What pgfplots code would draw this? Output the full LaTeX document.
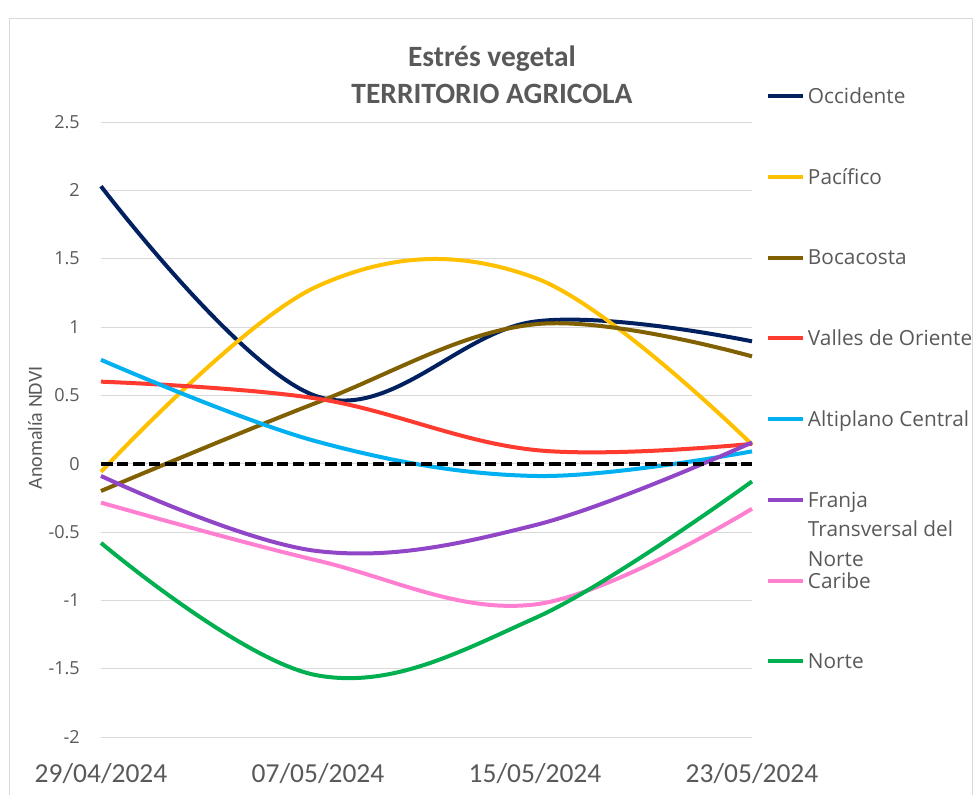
\documentclass[border=0pt]{standalone}
\usepackage{pgfplots}
\pgfplotsset{compat=1.18}
\usepackage{fontspec}
\setmainfont{Carlito}
\newfontfamily\osans{Open Sans}
\definecolor{occ}{HTML}{002060}
\definecolor{pac}{HTML}{FFC000}
\definecolor{boc}{HTML}{806000}
\definecolor{val}{HTML}{FF3B30}
\definecolor{alt}{HTML}{00B0F0}
\definecolor{fra}{HTML}{9146C8}
\definecolor{car}{HTML}{FF7FD0}
\definecolor{nor}{HTML}{00B050}
\definecolor{txt}{HTML}{595959}
\definecolor{grd}{HTML}{D9D9D9}
\begin{document}
\begin{tikzpicture}
\useasboundingbox (0,0) rectangle (732pt,595.5pt);
\draw[grd, line width=0.75pt] (6.75pt,-2pt) -- (6.75pt,581.25pt) -- (729pt,581.25pt) -- (729pt,-2pt);
\begin{axis}[
  at={(75.75pt,42.75pt)}, anchor=south west,
  scale only axis, width=488.25pt, height=461.25pt,
  xmin=0, xmax=3, ymin=-2, ymax=2.5,
  clip=false,
  axis line style={draw=none},
  major tick length=0pt,
  ymajorgrids, grid style={grd, line width=0.75pt},
  xtick={0,1,2,3},
  xticklabels={29/04/2024,07/05/2024,15/05/2024,23/05/2024},
  ytick={-2,-1.5,-1,-0.5,0,0.5,1,1.5,2,2.5},
  yticklabels={-2,-1.5,-1,-0.5,0,0.5,1,1.5,2,2.5},
  yticklabel style={font=\osans\fontsize{13.5pt}{16pt}\selectfont, text=txt, inner sep=0pt, xshift=-15.75pt},
  xticklabel style={font=\fontsize{20.6pt}{24pt}\selectfont, text=txt, anchor=base, inner sep=0pt, yshift=-33.75pt},
  every axis plot/.append style={line width=3pt, smooth, tension=0.62},
  legend cell align=left,
  legend style={at={(axis description cs:1.0215,1.0455)}, anchor=north west, draw=none, fill=none,
    inner sep=0pt, outer sep=0pt, row sep=53.0pt, column sep=2.25pt,
    font=\osans\fontsize{15.6pt}{22.1pt}\selectfont, text=txt,
    nodes={inner sep=0pt, text height=0pt, text depth=0pt, anchor=west}},
  legend image code/.code={\draw[#1, line width=3pt] (0pt,5.57pt) -- (26.25pt,5.57pt);},
]
\addplot[occ] coordinates {(0,2.03) (1,0.49) (2,1.04) (3,0.895)};
\addlegendentry{Occidente}
\addplot[pac] coordinates {(0,-0.06) (1,1.30) (2,1.36) (3,0.14)};
\addlegendentry{Pacífico}
\addplot[boc] coordinates {(0,-0.2) (1,0.45) (2,1.02) (3,0.785)};
\addlegendentry{Bocacosta}
\addplot[val] coordinates {(0,0.6) (1,0.475) (2,0.10) (3,0.145)};
\addlegendentry{Valles de Oriente}
\addplot[alt] coordinates {(0,0.76) (1,0.16) (2,-0.09) (3,0.09)};
\addlegendentry{Altiplano Central}
\addplot[fra] coordinates {(0,-0.09) (1,-0.64) (2,-0.45) (3,0.155)};
\addlegendentry{{\smash{\begin{tabular}[t]{@{}l@{}}Franja\\Transversal del\\Norte\end{tabular}}}}
\addplot[car] coordinates {(0,-0.285) (1,-0.71) (2,-1.03) (3,-0.33)};
\addlegendentry{Caribe}
\addplot[nor] coordinates {(0,-0.58) (1,-1.55) (2,-1.13) (3,-0.13)};
\addlegendentry{Norte}
\addplot[black, line width=2.8pt, dash pattern=on 8.5pt off 3.5pt, forget plot] coordinates {(0,0) (3,0)};
\end{axis}
\node[anchor=base, font=\bfseries\fontsize{22.1pt}{26pt}\selectfont, text=txt] at (369pt,545.6pt) {Estrés vegetal};
\node[anchor=base, font=\bfseries\fontsize{22.1pt}{26pt}\selectfont, text=txt] at (369pt,517.8pt) {TERRITORIO AGRICOLA};
\node[rotate=90, font=\fontsize{15pt}{18pt}\selectfont, text=txt] at (26.25pt,274.5pt) {Anomalía NDVI};
\end{tikzpicture}
\end{document}
